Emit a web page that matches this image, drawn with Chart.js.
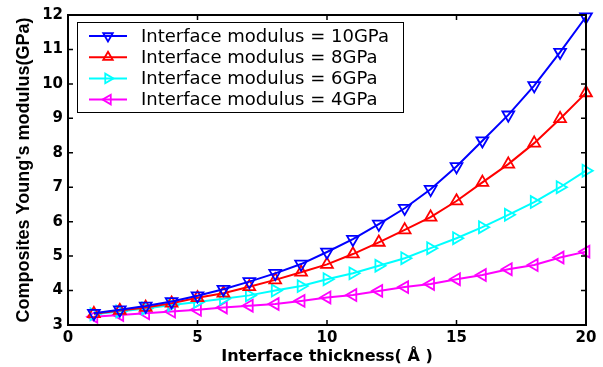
<!DOCTYPE html>
<html>
<head>
<meta charset="utf-8">
<script src="https://cdn.jsdelivr.net/npm/chart.js@4/dist/chart.umd.min.js"></script>
<style>
  html, body { margin: 0; padding: 0; background: #fff; }
  #wrap { width: 603px; height: 367px; }
</style>
</head>
<body>
<div id="wrap"><canvas id="myChart" width="603" height="367"></canvas></div>
<script>
'use strict';
const thickness = [1, 2, 3, 4, 5, 6, 7, 8, 9, 10, 11, 12, 13, 14, 15, 16, 17, 18, 19, 20];
const mod10 = [3.34, 3.44, 3.55, 3.68, 3.85, 4.04, 4.26, 4.50, 4.77, 5.12, 5.49, 5.93, 6.39, 6.94, 7.60, 8.35, 9.10, 9.95, 10.92, 11.95];
const mod8 = [3.33, 3.42, 3.51, 3.63, 3.79, 3.92, 4.11, 4.31, 4.53, 4.76, 5.06, 5.40, 5.76, 6.13, 6.60, 7.14, 7.67, 8.28, 8.99, 9.74];
const mod6 = [3.31, 3.39, 3.48, 3.58, 3.67, 3.76, 3.86, 4.00, 4.13, 4.33, 4.50, 4.72, 4.94, 5.23, 5.52, 5.84, 6.20, 6.57, 7.00, 7.48];
const mod4 = [3.24, 3.29, 3.34, 3.39, 3.44, 3.51, 3.56, 3.61, 3.70, 3.80, 3.87, 3.99, 4.10, 4.19, 4.33, 4.45, 4.62, 4.74, 4.96, 5.13];
const seriesNames = ['Interface modulus = 10GPa', 'Interface modulus = 8GPa', 'Interface modulus = 6GPa', 'Interface modulus = 4GPa'];
const xTicks = [0, 5, 10, 15, 20];
const yTicks = [3, 4, 5, 6, 7, 8, 9, 10, 11, 12];

const colors = ['#0000ff', '#ff0000', '#00ffff', '#ff00ff'];
const rotations = [180, 0, 90, 270];
const allValues = [mod10, mod8, mod6, mod4];

function makeSet(i) {
  return {
    label: seriesNames[i],
    data: thickness.map((x, k) => ({x: x, y: allValues[i][k]})),
    borderColor: colors[i],
    backgroundColor: 'rgba(0,0,0,0)',
    borderWidth: 2,
    pointStyle: 'triangle',
    rotation: rotations[i],
    pointRadius: 6.8,
    pointBorderWidth: 1.8,
    pointBackgroundColor: 'rgba(0,0,0,0)',
    pointBorderColor: colors[i],
    clip: false,
    tension: 0
  };
}

// frame with inward ticks on all four sides
const framePlugin = {
  id: 'frame',
  afterDatasetsDraw(chart) {
    const ctx = chart.ctx;
    const a = chart.chartArea;
    const xs = chart.scales.x, ys = chart.scales.y;
    ctx.save();
    ctx.strokeStyle = '#000';
    ctx.lineWidth = 2;
    ctx.strokeRect(a.left, a.top, a.right - a.left, a.bottom - a.top);
    ctx.lineWidth = 1.5;
    ctx.beginPath();
    xTicks.forEach(v => {
      const px = xs.getPixelForValue(v);
      ctx.moveTo(px, a.bottom); ctx.lineTo(px, a.bottom - 5);
      ctx.moveTo(px, a.top); ctx.lineTo(px, a.top + 5);
    });
    yTicks.forEach(v => {
      const py = ys.getPixelForValue(v);
      ctx.moveTo(a.left, py); ctx.lineTo(a.left + 5, py);
      ctx.moveTo(a.right, py); ctx.lineTo(a.right - 5, py);
    });
    ctx.stroke();
    ctx.restore();
  }
};

// boxed legend in the upper left of the plot
const legendPlugin = {
  id: 'boxLegend',
  afterDraw(chart) {
    const ctx = chart.ctx;
    const bx = 77.5, by = 22.5, bw = 326, bh = 90;
    ctx.save();
    ctx.fillStyle = '#fff';
    ctx.fillRect(bx, by, bw, bh);
    ctx.strokeStyle = '#000';
    ctx.lineWidth = 1;
    ctx.strokeRect(bx, by, bw, bh);
    chart.data.datasets.forEach((ds, i) => {
      const cy = 36 + i * 21.2;
      ctx.strokeStyle = ds.borderColor;
      ctx.lineWidth = 2;
      ctx.beginPath();
      ctx.moveTo(89, cy); ctx.lineTo(127, cy);
      ctx.stroke();
      ctx.fillStyle = 'rgba(0,0,0,0)';
      ctx.lineWidth = 1.8;
      Chart.helpers.drawPoint(ctx, {pointStyle: 'triangle', rotation: ds.rotation, radius: 5.5, borderWidth: 1.8}, 108, cy);
      ctx.fillStyle = '#000';
      ctx.font = '18px "DejaVu Sans"';
      ctx.textBaseline = 'middle';
      ctx.textAlign = 'left';
      ctx.fillText(ds.label, 141, cy + 1);
    });
    ctx.restore();
  }
};

const ctx = document.getElementById('myChart').getContext('2d');
const chart = new Chart(ctx, {
  type: 'line',
  data: {
    datasets: [makeSet(0), makeSet(1), makeSet(2), makeSet(3)]
  },
  options: {
    responsive: false,
    animation: false,
    layout: {padding: {top: 15, right: 17, left: 0, bottom: 0}},
    plugins: {legend: {display: false}, tooltip: {enabled: false}},
    scales: {
      x: {
        type: 'linear',
        min: 0, max: 20,
        afterFit(scale) { scale.height = 42; },
        afterBuildTicks(scale) { scale.ticks = xTicks.map(v => ({value: v})); },
        grid: {display: false, drawTicks: false},
        border: {display: false},
        ticks: {color: '#000', padding: 4, font: {family: 'DejaVu Sans', weight: 'bold', size: 15}},
        title: {display: true, text: 'Interface thickness( Å )', color: '#000', padding: {top: 0, bottom: 1},
          font: {family: 'DejaVu Sans', weight: 'bold', size: 16}}
      },
      y: {
        type: 'linear',
        min: 3, max: 12,
        afterFit(scale) { scale.width = 68; },
        afterBuildTicks(scale) { scale.ticks = yTicks.map(v => ({value: v})); },
        grid: {display: false, drawTicks: false},
        border: {display: false},
        ticks: {color: '#000', padding: 5, font: {family: 'DejaVu Sans', weight: 'bold', size: 15}},
        title: {display: true, text: "Composites Young's modulus(GPa)", color: '#000', padding: {top: 13, bottom: 0},
          font: {family: 'Liberation Sans', weight: 'bold', size: 18}}
      }
    }
  },
  plugins: [framePlugin, legendPlugin]
});
</script>
</body>
</html>
